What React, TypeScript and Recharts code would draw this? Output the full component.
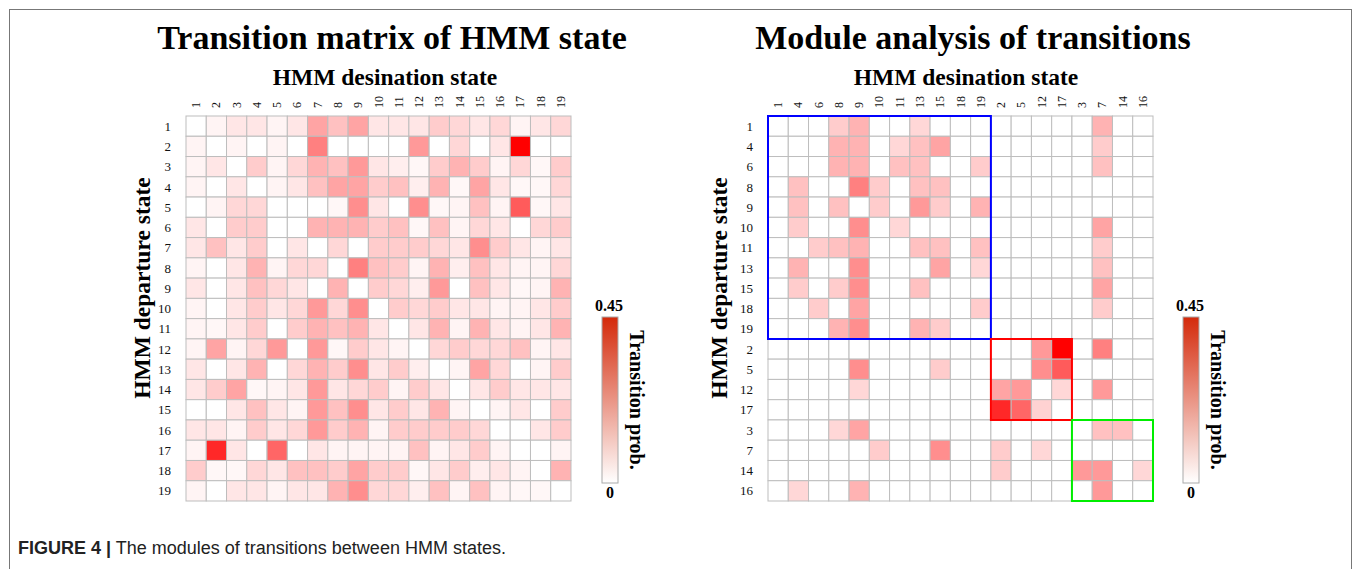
import React from 'react';
import { ScatterChart, Scatter, XAxis, YAxis, ReferenceArea } from 'recharts';

// state labels
const STATES = ['1', '2', '3', '4', '5', '6', '7', '8', '9', '10', '11', '12', '13', '14', '15', '16', '17', '18', '19'];
const MODULE_ORDER = ['1', '4', '6', '8', '9', '10', '11', '13', '15', '18', '19', '2', '5', '12', '17', '3', '7', '14', '16'];
const MODULE_SIZES = [11, 4, 4];
const MODULE_COLORS = ['#0000ff', '#ff0000', '#00ee00'];
const V_MAX = 0.45;

// transition probabilities, departure row -> destination column (states 1..19)
const TRANSITION = [
  [0, .02, .045, .045, .02, .045, .16, .11, .16, .045, .045, .045, .09, .07, .045, .07, .02, .045, .07],
  [.02, 0, .02, 0, .02, 0, .225, 0, 0, 0, 0, .18, 0, .07, 0, .045, .45, 0, 0],
  [.02, .045, 0, .09, .02, .07, .135, .11, .18, .045, .03, .015, .09, .135, .09, .02, .07, .015, .09],
  [.02, 0, .045, 0, .02, .045, .11, .16, .16, .09, .11, .03, .135, .015, .16, .045, .015, .015, .07],
  [0, .02, .07, .07, 0, 0, 0, .015, .2, .045, 0, .2, .015, .02, .11, .02, .29, .015, .045],
  [.045, 0, .09, .09, 0, 0, .135, .135, .135, .09, .11, .015, .11, .02, .07, .045, 0, .07, .09],
  [.045, .11, .045, .09, 0, .045, 0, .07, 0, .09, .09, .09, .07, .045, .2, .09, .045, .02, .045],
  [.02, 0, .045, .135, .02, .07, .07, 0, .225, .11, .09, .02, .135, .03, .11, .045, .02, .02, .07],
  [.045, 0, .045, .11, .07, .045, 0, .135, 0, .09, .07, .03, .18, 0, .11, .045, .015, .02, .135],
  [.02, 0, .045, .09, .045, .07, .18, .07, .2, 0, .09, .07, .09, .045, .045, .02, .02, .045, .09],
  [.02, .015, .045, .09, 0, .09, .135, .11, .135, .045, 0, .045, .135, .02, .135, .045, .02, .045, .135],
  [.02, .16, .02, .07, .18, 0, .18, .015, .09, .045, .02, 0, .07, .09, .07, .07, .11, .02, .045],
  [.045, 0, .045, .135, 0, .07, .135, .09, .2, .045, .09, .03, 0, .02, .16, .07, 0, .02, .09],
  [.045, .09, .16, .015, .02, .045, .18, .045, .07, .09, .02, .09, .045, 0, .045, .09, .045, .045, .045],
  [0, 0, .045, .11, .045, .02, .18, .11, .2, .045, .09, .045, .135, .02, 0, .02, .045, 0, .09],
  [.045, .045, .02, .09, .045, .07, .18, .09, .135, .02, .09, .09, .09, .09, .07, 0, 0, .045, .09],
  [.02, .38, .045, 0, .27, 0, .045, .02, .02, .02, .02, .11, .02, .045, .09, .02, 0, 0, .02],
  [.09, .015, .015, .07, .045, .11, .11, .09, .16, .09, .09, .015, .045, .09, .03, .045, .02, 0, .135],
  [.02, 0, .045, .045, .02, .045, .045, .135, .2, .07, .07, .03, .11, .02, .11, .02, .015, .015, 0],
];

// strong transitions only, rows and columns in MODULE_ORDER
const MODULE_TRANSITION = [
  [0, 0, 0, .09, .135, 0, 0, .07, 0, 0, 0, 0, 0, 0, 0, 0, .135, 0, 0],
  [0, 0, 0, .135, .135, 0, .07, .11, .16, 0, 0, 0, 0, 0, 0, 0, .09, 0, 0],
  [0, 0, 0, .135, .135, 0, .11, .11, 0, 0, .09, 0, 0, 0, 0, 0, .11, 0, 0],
  [0, .11, 0, 0, .225, .09, 0, .11, .11, 0, 0, 0, 0, 0, 0, 0, 0, 0, 0],
  [0, .11, 0, .11, 0, .09, 0, .18, .09, 0, .135, 0, 0, 0, 0, 0, 0, 0, 0],
  [0, .09, 0, 0, .2, 0, .07, 0, 0, 0, 0, 0, 0, 0, 0, 0, .16, 0, 0],
  [0, 0, .09, .11, .135, 0, 0, .11, .11, 0, .11, 0, 0, 0, 0, 0, .09, 0, 0],
  [0, .135, 0, 0, .2, 0, 0, 0, .16, 0, .07, 0, 0, 0, 0, 0, .11, 0, 0],
  [0, .09, 0, .09, .2, 0, 0, .11, 0, 0, 0, 0, 0, 0, 0, 0, .16, 0, 0],
  [0, 0, .09, 0, .16, 0, 0, 0, 0, 0, .09, 0, 0, 0, 0, 0, .09, 0, 0],
  [0, 0, 0, .135, .2, 0, 0, .135, .09, 0, 0, 0, 0, 0, 0, 0, 0, 0, 0],
  [0, 0, 0, 0, 0, 0, 0, 0, 0, 0, 0, 0, 0, .18, .45, 0, .225, 0, 0],
  [0, 0, 0, 0, .2, 0, 0, 0, .09, 0, 0, 0, 0, .2, .29, 0, 0, 0, 0],
  [0, 0, 0, 0, .07, 0, 0, 0, 0, 0, 0, .16, .18, 0, .07, 0, .18, 0, 0],
  [0, 0, 0, 0, 0, 0, 0, 0, 0, 0, 0, .38, .27, .08, 0, 0, 0, 0, 0],
  [0, 0, 0, .07, .16, 0, 0, 0, 0, 0, 0, 0, 0, 0, 0, 0, .11, .11, 0],
  [0, 0, 0, 0, 0, .09, 0, 0, .2, 0, 0, .09, 0, .07, 0, 0, 0, 0, 0],
  [0, 0, 0, 0, 0, 0, 0, 0, 0, 0, 0, .09, 0, 0, 0, .18, .18, 0, .07],
  [0, .07, 0, 0, .135, 0, 0, 0, 0, 0, 0, 0, 0, 0, 0, 0, .18, 0, 0],
];

const SERIF = '"Liberation Serif", "Times New Roman", serif';
const PLOT = 385;
const N = STATES.length;
const CELL = PLOT / N;
const TICKS = STATES.map((_, i) => i + 0.5);

function cellColor(v: number) {
  const t = Math.min(v / V_MAX, 1);
  const c = Math.round(255 * (1 - t));
  return `rgb(255,${c},${c})`;
}

const CellShape = (props: any) => (
  <rect
    x={props.cx - CELL / 2}
    y={props.cy - CELL / 2}
    width={CELL}
    height={CELL}
    fill={cellColor(props.payload.v)}
    stroke="#bdbdbd"
    strokeWidth={1}
  />
);

const ColTick = ({ x, y, payload, labels }: any) => (
  <text
    x={x}
    y={y}
    transform={`rotate(-90 ${x} ${y})`}
    textAnchor="start"
    dominantBaseline="central"
    fontSize={12}
    fontFamily={SERIF}
    fill="#111"
  >
    {labels[Math.floor(payload.value)]}
  </text>
);

function Heatmap({ labels, matrix, left, marginLeft, modules }: any) {
  const points = matrix.flatMap((row: number[], r: number) =>
    row.map((v, c) => ({ x: c + 0.5, y: r + 0.5, v }))
  );
  const width = 600;
  const height = 520;
  let start = 0;
  const boxes = (modules || []).map((size: number, i: number) => {
    const box = { a: start, b: start + size, color: MODULE_COLORS[i] };
    start += size;
    return box;
  });
  return (
    <div style={{ position: 'absolute', left, top: 0 }}>
      <ScatterChart
        width={width}
        height={height}
        margin={{ top: 86, left: marginLeft, right: width - marginLeft - 40 - PLOT, bottom: height - 116 - PLOT }}
      >
        <XAxis
          type="number"
          dataKey="x"
          orientation="top"
          domain={[0, N]}
          ticks={TICKS}
          interval={0}
          height={30}
          axisLine={false}
          tickLine={false}
          tickSize={0}
          tickMargin={8}
          tick={<ColTick labels={labels} />}
        />
        <YAxis
          type="number"
          dataKey="y"
          reversed
          domain={[0, N]}
          ticks={TICKS}
          interval={0}
          width={40}
          axisLine={false}
          tickLine={false}
          tickSize={0}
          tickMargin={15}
          tickFormatter={(v: number) => labels[Math.floor(v)]}
          tick={{ fontSize: 13, fill: '#111', fontFamily: SERIF }}
        />
        <Scatter data={points} shape={CellShape} isAnimationActive={false} />
        {boxes.map((b: any) => (
          <ReferenceArea
            key={b.color}
            x1={b.a}
            x2={b.b}
            y1={b.a}
            y2={b.b}
            fill="none"
            fillOpacity={0}
            stroke={b.color}
            strokeWidth={2}
            ifOverflow="visible"
            zIndex={2000}
          />
        ))}
      </ScatterChart>
    </div>
  );
}

function ColorBar({ left, id }: { left: number; id: string }) {
  return (
    <svg style={{ position: 'absolute', left, top: 290 }} width={70} height={220}>
      <defs>
        <linearGradient id={id} x1="0" y1="0" x2="0" y2="1">
          <stop offset="0%" stopColor="#d42a0b" />
          <stop offset="100%" stopColor="#ffffff" />
        </linearGradient>
      </defs>
      <text x={18} y={21} textAnchor="middle" fontSize={16} fontWeight="bold" fontFamily={SERIF}>
        {V_MAX}
      </text>
      <rect x={11} y={27} width={16} height={166} fill={`url(#${id})`} stroke="#aaa" strokeWidth={1} />
      <text x={19} y={208} textAnchor="middle" fontSize={16} fontWeight="bold" fontFamily={SERIF}>
        0
      </text>
      <text
        x={46}
        y={110}
        transform="rotate(90 46 110)"
        textAnchor="middle"
        dominantBaseline="central"
        fontSize={20}
        fontWeight="bold"
        fontFamily={SERIF}
      >
        Transition prob.
      </text>
    </svg>
  );
}

function Label({ x, y, size, rotate, children }: any) {
  return (
    <div
      style={{
        position: 'absolute',
        left: x,
        top: y,
        transform: `translate(-50%, -50%)${rotate ? ` rotate(${rotate}deg)` : ''}`,
        whiteSpace: 'nowrap',
        fontFamily: SERIF,
        fontWeight: 'bold',
        fontSize: size,
        lineHeight: 1,
        color: '#000',
      }}
    >
      {children}
    </div>
  );
}

export default function App() {
  return (
    <div style={{ position: 'absolute', left: 0, top: 0, width: 1360, height: 569, background: '#fff', overflow: 'hidden' }}>
      <div style={{ position: 'absolute', left: 9, top: 9, width: 1341, height: 600, border: '1px solid #777' }} />
      <Label x={392} y={38} size={34}>Transition matrix of HMM state</Label>
      <Label x={385} y={78} size={23.5}>HMM desination state</Label>
      <Label x={143} y={288} size={23.5} rotate={-90}>HMM departure state</Label>
      <Heatmap labels={STATES} matrix={TRANSITION} left={0} marginLeft={146} />
      <ColorBar left={591} id="cb1" />

      <Label x={973} y={38} size={34}>Module analysis of transitions</Label>
      <Label x={966} y={78} size={23.5}>HMM desination state</Label>
      <Label x={720} y={288} size={23.5} rotate={-90}>HMM departure state</Label>
      <Heatmap labels={MODULE_ORDER} matrix={MODULE_TRANSITION} left={620} marginLeft={108} modules={MODULE_SIZES} />
      <ColorBar left={1172} id="cb2" />

      <div
        style={{
          position: 'absolute',
          left: 18,
          top: 538,
          fontFamily: '"Liberation Sans", Arial, sans-serif',
          fontSize: 18,
          color: '#222',
          whiteSpace: 'nowrap',
        }}
      >
        <b>FIGURE 4 |</b> The modules of transitions between HMM states.
      </div>
    </div>
  );
}
